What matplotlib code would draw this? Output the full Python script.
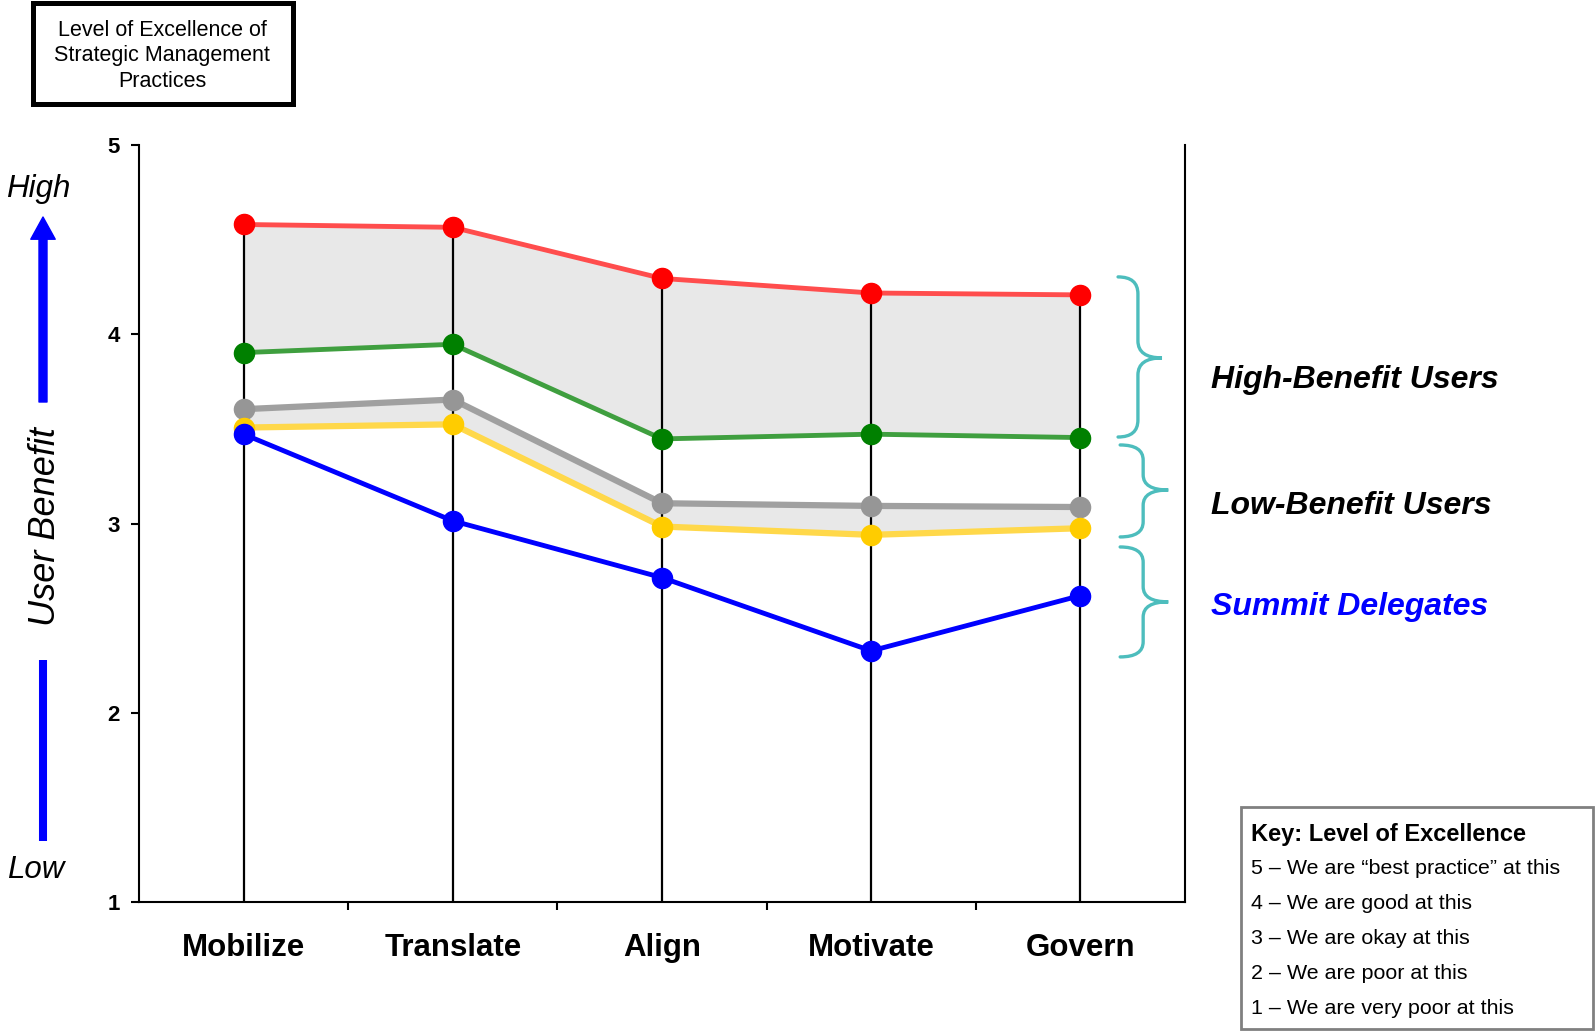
import numpy as np
import matplotlib
matplotlib.use('Agg')
import matplotlib.pyplot as plt
from matplotlib.path import Path
from matplotlib.patches import PathPatch, Rectangle
from matplotlib.lines import Line2D

plt.rcParams['font.family'] = ['Liberation Sans', 'DejaVu Sans']

categories = ['Mobilize', 'Translate', 'Align', 'Motivate', 'Govern']
high_top = [4.58, 4.565, 4.295, 4.218, 4.208]     # red
high_bottom = [3.903, 3.947, 3.447, 3.472, 3.454]  # green
low_top = [3.604, 3.655, 3.107, 3.093, 3.087]      # gray
low_bottom = [3.507, 3.524, 2.984, 2.94, 2.975]    # yellow
delegates = [3.472, 3.014, 2.714, 2.327, 2.619]    # blue

key_title = 'Key: Level of Excellence'
key_lines = ['5 \u2013 We are \u201cbest practice\u201d at this',
             '4 \u2013 We are good at this',
             '3 \u2013 We are okay at this',
             '2 \u2013 We are poor at this',
             '1 \u2013 We are very poor at this']

W, H = 1596, 1031
fig = plt.figure(figsize=(W / 100, H / 100), dpi=100)
ax = fig.add_axes([139 / W, 1 - 902 / H, (1185 - 139) / W, (902 - 145) / H])

x = np.arange(len(categories))

# shaded bands
ax.fill_between(x, high_top, high_bottom, color='#e8e8e8', lw=0, zorder=1)
ax.fill_between(x, low_top, low_bottom, color='#e8e8e8', lw=0, zorder=1)

# drop lines from the top series
ax.vlines(x, 1, high_top, colors='black', lw=1.6, zorder=2)

series = [
    (high_top, '#ff4d4d', '#ff0000', 3.5),
    (high_bottom, '#3f9f3f', '#008000', 3.5),
    (low_top, '#a0a0a0', '#969696', 4.5),
    (low_bottom, '#ffd84a', '#ffcc00', 4.5),
    (delegates, '#0000ff', '#0000ff', 3.5),
]
for i, (vals, lc, mc, lw) in enumerate(series):
    ax.plot(x, vals, color=lc, lw=lw, zorder=3 + i * 0.1, solid_capstyle='round')
for i, (vals, lc, mc, lw) in enumerate(series):
    ax.plot(x, vals, 'o', color=mc, ms=14.5, mec=mc, zorder=5 + i * 0.1)

ax.set_xlim(-0.5, 4.5)
ax.set_ylim(1, 5)
ax.spines['top'].set_visible(False)
for s in ['left', 'bottom', 'right']:
    ax.spines[s].set_linewidth(1.5)

ax.set_yticks([1, 2, 3, 4, 5])
ax.set_yticklabels(['1', '2', '3', '4', '5'], fontsize=16, fontweight='bold')
ax.tick_params(axis='y', direction='out', length=6, width=1.5, pad=8)

ax.set_xticks(x)
ax.set_xticklabels(categories, fontsize=22.5, fontweight='bold')
ax.set_xticks([0.5, 1.5, 2.5, 3.5], minor=True)
ax.tick_params(axis='x', which='major', length=0, pad=22)
ax.tick_params(axis='x', which='minor', direction='out', length=6, width=1.5)


def brace(ax, x0, xs, xt, ytop, ybot, ymid, r):
    verts = [(x0, ytop), (xs, ytop), (xs, ytop - r),
             (xs, ymid + r), (xs, ymid), (xt, ymid),
             (xs, ymid), (xs, ymid - r),
             (xs, ybot + r), (xs, ybot), (x0, ybot)]
    codes = [Path.MOVETO, Path.CURVE3, Path.CURVE3,
             Path.LINETO, Path.CURVE3, Path.CURVE3,
             Path.CURVE3, Path.CURVE3,
             Path.LINETO, Path.CURVE3, Path.CURVE3]
    ax.add_patch(PathPatch(Path(verts, codes), fill=False, ec='#4dbdbd',
                           lw=2.4, capstyle='round', zorder=6, clip_on=False))


brace(ax, 4.18, 4.275, 4.39, 4.303, 3.457, 3.875, 0.09)
brace(ax, 4.19, 4.30, 4.42, 3.415, 2.929, 3.177, 0.08)
brace(ax, 4.19, 4.30, 4.42, 2.876, 2.295, 2.586, 0.08)

# group labels
fig.text(1211 / W, 1 - 380 / H, 'High-Benefit Users', fontsize=23,
         fontweight='bold', style='italic', va='center', ha='left')
fig.text(1211 / W, 1 - 506 / H, 'Low-Benefit Users', fontsize=23,
         fontweight='bold', style='italic', va='center', ha='left')
fig.text(1211 / W, 1 - 607 / H, 'Summit Delegates', fontsize=23,
         fontweight='bold', style='italic', va='center', ha='left', color='#0000ff')

# title box
fig.patches.append(Rectangle((32.5 / W, 1 - 103.5 / H), 260 / W, 101 / H,
                             transform=fig.transFigure, fill=True, fc='white',
                             ec='black', lw=3.6))
fig.text(162 / W, 1 - 56 / H,
         'Level of Excellence of\nStrategic Management\nPractices',
         fontsize=15.5, ha='center', va='center', linespacing=1.3)

# user benefit axis annotation
fig.text(38 / W, 1 - 189 / H, 'High', fontsize=22.5, style='italic',
         ha='center', va='center')
fig.text(36 / W, 1 - 870 / H, 'Low', fontsize=22.5, style='italic',
         ha='center', va='center')
fig.text(46 / W, 1 - 527 / H, 'User Benefit', fontsize=26, style='italic',
         ha='center', va='center', rotation=90)
ax.annotate('', xy=(43 / W, 1 - 217 / H), xytext=(43 / W, 1 - 402 / H),
            xycoords='figure fraction', textcoords='figure fraction',
            arrowprops=dict(arrowstyle='simple,head_length=1.0,head_width=1.1,tail_width=0.36',
                            color='#0000ff', mutation_scale=16,
                            shrinkA=0, shrinkB=0))
fig.lines.append(Line2D([43 / W, 43 / W], [1 - 660 / H, 1 - 841 / H],
                        transform=fig.transFigure, color='#0000ff', lw=5.8,
                        solid_capstyle='butt'))

# key box
fig.patches.append(Rectangle((1241 / W, 1 - 1029 / H), 352 / W, 222 / H,
                             transform=fig.transFigure, fill=False,
                             ec='#808080', lw=2))
fig.text(1251 / W, 1 - 834 / H, key_title, fontsize=17, fontweight='bold',
         ha='left', va='center')
for i, line in enumerate(key_lines):
    fig.text(1251 / W, 1 - (869 + 34.8 * i) / H, line, fontsize=15.4,
             ha='left', va='center')

fig.savefig('out.png', dpi=100)
